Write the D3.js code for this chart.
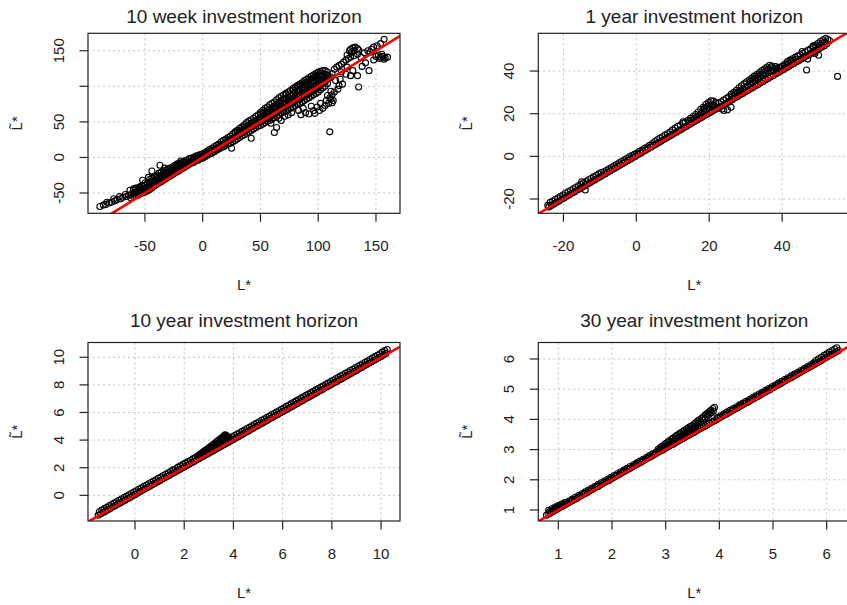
<!DOCTYPE html>
<html>
<head>
<meta charset="utf-8">
<script src="https://cdn.jsdelivr.net/npm/d3@7/dist/d3.min.js"></script>
<style>
  body { margin: 0; background: #fff; }
  svg { display: block; }
  text { font-family: "Liberation Sans", Arial, sans-serif; fill: #222; }
</style>
</head>
<body>
<svg id="chart" width="847" height="605"></svg>
<script>
// ---- data: (L*, L~*) pairs for each investment horizon ----
const tenWeekPts = [
  // lower tail
  [-89,-69],[-86,-67],[-84,-66],[-81,-64],[-79,-63],[-76,-61],[-74,-59],[-71,-58],[-69,-56],[-66,-55],[-64,-53],
  [-83,-63],[-77,-58],[-72,-55],[-67,-52],[-63,-46],[-58,-43],[-60,-44],[-55,-42],
  // main body
  [-62,-57],[-62,-52],[-60,-55],[-60,-50],[-60,-46],[-58,-54],[-58,-49],[-58,-44],
  [-56,-53],[-56,-48],[-56,-43],[-54,-51],[-54,-46],[-54,-41],[-52,-50],[-52,-45],[-52,-40],
  [-50,-49],[-50,-44],[-50,-39],[-50,-36],[-48,-47],[-48,-42],[-48,-37],
  [-46,-45],[-46,-40],[-46,-35],[-46,-31],[-44,-43],[-44,-38],[-44,-33],[-44,-29],
  [-42,-40],[-42,-35],[-42,-31],[-42,-27],[-40,-38],[-40,-33],[-40,-28],[-40,-25],
  [-38,-36],[-38,-31],[-38,-26],[-38,-22],[-36,-34],[-36,-29],[-36,-25],[-36,-21],
  [-34,-32],[-34,-27],[-34,-23],[-34,-19],[-32,-30],[-32,-25],[-32,-21],[-32,-18],
  [-30,-28],[-30,-24],[-30,-20],[-30,-16],[-28,-26],[-28,-22],[-28,-18],[-28,-15],
  [-26,-24],[-26,-20],[-26,-16],[-26,-13],[-24,-22],[-24,-18],[-24,-14],[-24,-11],
  [-22,-20],[-22,-16],[-22,-12],[-22,-9],[-20,-18],[-20,-14],[-20,-11],[-20,-8],
  [-18,-16],[-18,-12],[-18,-9],[-18,-7],[-16,-14],[-16,-10],[-16,-7],[-16,-5],
  [-14,-12],[-14,-8],[-14,-4],[-12,-10],[-12,-6],[-12,-2],[-10,-8],[-10,-5],[-10,-1],
  [-8,-7],[-8,-3],[-8,0],[-6,-5],[-6,-1],[-6,2],[-4,-4],[-4,0],[-4,3],[-2,-2],[-2,1],[-2,4],
  [0,-1],[0,2],[0,5],[2,1],[2,4],[2,7],[4,3],[4,6],[4,9],[6,5],[6,8],[6,11],[8,6],[8,10],[8,13],
  [10,8],[10,11],[10,15],[12,10],[12,13],[12,17],[14,12],[14,15],[14,19],[16,14],[16,18],[16,22],
  [18,15],[18,19],[18,24],[20,17],[20,21],[20,26],[22,19],[22,24],[22,28],[24,20],[24,25],[24,30],
  [26,22],[26,27],[26,33],[28,24],[28,29],[28,34],[28,36],[30,26],[30,31],[30,35],[30,38],
  [32,28],[32,33],[32,37],[32,41],[34,30],[34,35],[34,39],[34,43],[36,32],[36,37],[36,42],[36,46],
  [38,34],[38,39],[38,44],[38,49],[40,36],[40,41],[40,46],[40,51],[42,38],[42,43],[42,48],[42,53],
  [44,40],[44,45],[44,50],[44,55],[46,42],[46,47],[46,52],[46,58],[48,44],[48,49],[48,54],[48,60],
  [50,45],[50,50],[50,55],[50,60],[50,63],[52,47],[52,52],[52,57],[52,62],[52,66],
  [54,49],[54,54],[54,59],[54,64],[54,69],[56,51],[56,56],[56,61],[56,66],[56,71],
  [58,52],[58,57],[58,63],[58,68],[58,74],[60,54],[60,59],[60,65],[60,70],[60,76],
  [62,56],[62,61],[62,67],[62,72],[62,78],[64,58],[64,63],[64,69],[64,75],[64,81],
  [66,60],[66,66],[66,72],[66,78],[66,84],[68,62],[68,68],[68,74],[68,80],[68,86],
  [70,64],[70,70],[70,76],[70,82],[70,88],[72,65],[72,71],[72,77],[72,83],[72,88],[72,90],
  [74,67],[74,73],[74,79],[74,85],[74,92],[76,69],[76,75],[76,81],[76,87],[76,94],
  [78,71],[78,77],[78,83],[78,89],[78,94],[78,97],[80,73],[80,79],[80,85],[80,91],[80,97],[80,99],
  [82,75],[82,81],[82,87],[82,93],[82,99],[82,101],[84,76],[84,82],[84,88],[84,94],[84,100],[84,103],
  [86,78],[86,84],[86,90],[86,96],[86,102],[86,105],[88,80],[88,86],[88,92],[88,98],[88,104],[88,108],
  [90,82],[90,88],[90,94],[90,100],[90,106],[90,110],[92,84],[92,90],[92,96],[92,102],[92,108],[92,112],
  [94,86],[94,92],[94,98],[94,104],[94,110],[94,114],[96,88],[96,94],[96,100],[96,106],[96,112],[96,116],
  [98,90],[98,96],[98,102],[98,108],[98,114],[98,118],[100,92],[100,98],[100,104],[100,110],[100,116],[100,120],
  [102,95],[102,101],[102,107],[102,113],[102,118],[102,121],[104,98],[104,104],[104,110],[104,116],[104,122],
  [106,100],[106,106],[106,112],[106,117],[106,122],[108,104],[108,110],[108,115],[108,120],
  // scattered points off the main body
  [-44,-19],[-37,-11],[-33,-15],[-19,-5],[-47,-28],[-52,-32],[25,13],[42,27],
  [83,66],[85,60],[87,69],[89,63],[92,61],[94,72],[96,66],[97,62],[99,71],[101,66],[102,76],[104,69],
  [106,73],[107,80],[109,76],[110,84],[112,88],[111,93],[113,80],[77,63],[74,60],[71,58],[66,55],
  [62,35],[64,42],[59,48],[68,52],
  [110,112],[112,118],[114,124],[116,127],[118,129],[120,131],[122,134],[124,137],[126,139],[128,141],
  [131,143],[134,145],[137,141],[140,147],[143,150],[146,152],[148,155],[151,157],[154,160],[157,166],[145,148],
  [125,144],[127,150],[128,152],[130,154],[132,155],[134,153],[135,151],[129,148],[131,150],
  [150,142],[152,144],[154,141],[156,142],[158,140],[160,141],[157,138],[153,139],[148,137],[155,145],
  [125,127],[130,122],[134,115],[128,115],[124,117],[119,110],[144,122],[135,99],[118,101],[114,92],
  [111,82],[112,77],[108,87],[115,108],[121,103],[111,113],[117,96],[138,128],[141,133],[120,120],
  [110,36]
];

const oneYearPts = [
  // lower edge of the band
  [-24,-23.7],[-23.3,-23.0],[-22.6,-22.3],[-21.9,-21.5],[-21.2,-20.9],[-20.5,-20.1],[-19.8,-19.5],
  [-19.1,-18.7],[-18.4,-18.1],[-17.7,-17.3],[-17,-16.7],[-16.3,-15.9],[-15.6,-15.3],[-14.9,-14.5],
  [-14.2,-13.9],[-13.5,-13.1],[-12.8,-12.5],[-12.1,-11.7],[-11.4,-11.1],[-10.7,-10.3],[-10,-9.7],
  [-9.3,-8.9],[-8.6,-8.3],[-7.9,-7.5],[-7.2,-6.9],[-6.5,-6.1],[-5.8,-5.5],[-5.1,-4.7],[-4.4,-4.1],
  [-3.7,-3.3],[-3,-2.7],[-2.3,-1.9],[-1.6,-1.3],[-0.9,-0.5],[-0.2,0.1],[0.5,0.9],[1.2,1.5],[1.9,2.3],
  [2.6,2.9],[3.3,3.7],[4,4.3],[4.7,5.1],[5.4,5.7],[6.1,6.5],[6.8,7.1],[7.5,7.9],[8.2,8.5],[8.9,9.3],
  [9.6,9.9],[10.3,10.7],[11,11.3],[11.7,12.1],[12.4,12.7],[13.1,13.5],[13.8,14.1],[14.5,14.9],
  [15.2,15.5],[15.9,16.3],[16.6,16.9],[17.3,17.7],[18,18.3],[18.7,19.1],[19.4,19.7],[20.1,20.5],
  [20.8,21.1],[21.5,21.8],[22.2,22.4],[22.9,23.0],[23.6,23.7],[24.3,24.5],[25,25.2],[25.7,26.0],
  [26.4,26.7],[27.1,27.5],[27.8,28.1],[28.5,28.9],[29.2,29.5],[29.9,30.3],[30.6,30.9],[31.3,31.7],
  [32,32.3],[32.7,33.1],[33.4,33.7],[34.1,34.5],[34.8,35.1],[35.5,35.9],[36.2,36.5],[36.9,37.3],
  [37.6,37.9],[38.3,38.7],[39,39.3],[39.7,40.1],[40.4,40.7],[41.1,41.5],[41.8,42.1],[42.5,42.9],
  [43.2,43.5],[43.9,44.3],[44.6,44.9],[45.3,45.7],[46,46.3],[46.7,47.1],[47.4,47.7],[48.1,48.5],
  [48.8,49.1],[49.5,49.9],[50.2,50.5],[50.9,51.3],[51.6,51.9],[52.3,52.8],
  // upper edge of the band
  [-23.65,-21.6],[-22.95,-20.9],[-22.25,-20.2],[-21.55,-19.5],[-20.85,-18.9],[-20.15,-18.1],
  [-19.45,-17.3],[-18.75,-16.6],[-18.05,-16.0],[-17.35,-15.2],[-16.65,-14.6],[-15.95,-13.8],
  [-15.25,-13.2],[-14.55,-12.4],[-13.85,-11.8],[-13.15,-11.0],[-12.45,-10.4],[-11.75,-9.6],
  [-11.05,-9.0],[-10.35,-8.2],[-9.65,-7.6],[-8.95,-7.2],[-8.25,-6.6],[-7.55,-5.8],[-6.85,-5.2],
  [-6.15,-4.4],[-5.45,-3.8],[-4.75,-3.0],[-4.05,-2.4],[-3.35,-1.6],[-2.65,-1.0],[-1.95,-0.2],
  [-1.25,0.4],[-0.55,1.0],[0.15,1.6],[0.85,2.4],[1.55,3.0],[2.25,3.8],[2.95,4.4],[3.65,5.2],
  [4.35,5.9],[5.05,7.0],[5.75,7.8],[6.45,8.6],[7.15,9.2],[7.85,10.0],[8.55,10.6],[9.25,11.4],
  [9.95,12.4],[10.65,13.3],[11.35,14.1],[12.05,14.7],[12.75,15.5],[13.45,16.1],[14.15,16.9],
  [14.85,17.9],[15.55,18.7],[16.25,19.6],[16.95,20.8],[17.65,22.1],[18.35,23.0],[19.05,24.3],
  [19.75,25.2],[20.45,26.0],[21.15,25.9],[21.85,25.2],[22.55,25.0],[23.25,25.6],[23.95,26.4],
  [24.65,27.1],[25.35,27.9],[26.05,29.2],[26.75,30.0],[27.45,31.0],[28.15,32.2],[28.85,33.1],
  [29.55,34.0],[30.25,35.0],[30.95,35.8],[31.65,36.7],[32.35,37.6],[33.05,38.4],[33.75,39.3],
  [34.45,40.2],[35.15,41.0],[35.85,41.9],[36.55,42.7],[37.25,42.4],[37.95,41.2],[38.65,40.9],
  [39.35,41.6],[40.05,42.3],[40.75,43.3],[41.45,44.4],[42.15,45.1],[42.85,45.8],[43.55,46.5],
  [44.25,47.1],[44.95,47.6],[45.65,48.3],[46.35,48.9],[47.05,49.7],[47.75,50.4],[48.45,51.2],
  [49.15,52.2],[49.85,53.0],[50.55,53.9],[51.25,54.7],[51.95,55.4],
  // filling where the band widens
  [14.5,16.2],[15.2,17.0],[15.9,17.7],[16.6,18.6],[17.3,19.4],[18.0,20.3],[18.7,21.2],[19.4,22.0],
  [20.1,22.8],[20.8,23.5],[21.5,23.6],
  [26.4,28.3],[27.1,29.1],[27.8,30.0],[28.5,30.8],[29.2,31.6],[29.9,32.4],[30.6,33.1],[31.3,33.9],
  [32.0,34.7],[32.7,35.5],[33.4,36.3],[34.1,37.1],[34.8,37.9],[35.5,38.6],[36.2,39.4],[36.9,40.1],[37.6,40.2],
  [41.1,42.9],[41.8,43.6],[42.5,44.3],[43.2,45.0],[43.9,45.6],[49.5,51.3],[50.2,52.0],[50.9,52.8],[51.6,53.5],
  [18.7,22.4],[19.4,23.3],[20.1,24.1],[20.8,24.5],
  [31.3,35.1],[32.0,35.9],[32.7,36.7],[33.4,37.5],[34.1,38.4],[34.8,39.2],[35.5,40.0],[36.2,40.9],[36.9,41.5],
  // isolated points
  [-15,-11.9],[-14,-15.8],[12.8,16.2],[46.7,40.5],[55.2,37.5],[49,48.2],[50,47.4],[47,45.6],
  [52.5,54.8],[53,54.3],[48.5,51.8],[45.5,49.2],[-24.3,-23],[38.2,42.1],[39.0,41.8],
  [24,21.5],[25,21.8],[23.5,22.2],[26,23.0]
];

const tenYearPts = [
  // lower edge of the band
  [-1.50,-1.44],[-1.40,-1.35],[-1.30,-1.24],[-1.20,-1.15],[-1.10,-1.04],[-1.00,-0.95],[-0.90,-0.84],
  [-0.80,-0.75],[-0.70,-0.64],[-0.60,-0.55],[-0.50,-0.44],[-0.40,-0.35],[-0.30,-0.24],[-0.20,-0.15],
  [-0.10,-0.04],[0.00,0.05],[0.10,0.16],[0.20,0.25],[0.30,0.36],[0.40,0.45],[0.50,0.56],[0.60,0.65],
  [0.70,0.76],[0.80,0.85],[0.90,0.96],[1.00,1.05],[1.10,1.16],[1.20,1.25],[1.30,1.36],[1.40,1.45],
  [1.50,1.56],[1.60,1.65],[1.70,1.76],[1.80,1.85],[1.90,1.96],[2.00,2.05],[2.10,2.16],[2.20,2.25],
  [2.30,2.36],[2.40,2.45],[2.50,2.56],[2.60,2.65],[2.70,2.76],[2.80,2.85],[2.90,2.96],[3.00,3.05],
  [3.10,3.16],[3.20,3.25],[3.30,3.36],[3.40,3.45],[3.50,3.56],[3.60,3.65],[3.70,3.76],[3.80,3.85],
  [3.90,3.96],[4.00,4.05],[4.10,4.16],[4.20,4.25],[4.30,4.36],[4.40,4.45],[4.50,4.56],[4.60,4.65],
  [4.70,4.76],[4.80,4.85],[4.90,4.96],[5.00,5.05],[5.10,5.16],[5.20,5.25],[5.30,5.36],[5.40,5.45],
  [5.50,5.56],[5.60,5.65],[5.70,5.76],[5.80,5.85],[5.90,5.96],[6.00,6.05],[6.10,6.16],[6.20,6.25],
  [6.30,6.36],[6.40,6.45],[6.50,6.56],[6.60,6.65],[6.70,6.76],[6.80,6.85],[6.90,6.96],[7.00,7.05],
  [7.10,7.16],[7.20,7.25],[7.30,7.36],[7.40,7.45],[7.50,7.56],[7.60,7.65],[7.70,7.76],[7.80,7.85],
  [7.90,7.96],[8.00,8.05],[8.10,8.16],[8.20,8.25],[8.30,8.36],[8.40,8.45],[8.50,8.56],[8.60,8.65],
  [8.70,8.76],[8.80,8.85],[8.90,8.96],[9.00,9.05],[9.10,9.16],[9.20,9.25],[9.30,9.36],[9.40,9.45],
  [9.50,9.56],[9.60,9.65],[9.70,9.76],[9.80,9.85],[9.90,9.96],[10.00,10.06],[10.10,10.17],[10.20,10.28],
  // upper edge of the band
  [-1.45,-1.19],[-1.35,-1.07],[-1.25,-0.96],[-1.15,-0.87],[-1.05,-0.76],[-0.95,-0.67],[-0.85,-0.56],
  [-0.75,-0.47],[-0.65,-0.36],[-0.55,-0.27],[-0.45,-0.16],[-0.35,-0.07],[-0.25,0.04],[-0.15,0.13],
  [-0.05,0.24],[0.05,0.33],[0.15,0.44],[0.25,0.53],[0.35,0.64],[0.45,0.73],[0.55,0.84],[0.65,0.93],
  [0.75,1.04],[0.85,1.13],[0.95,1.24],[1.05,1.33],[1.15,1.44],[1.25,1.53],[1.35,1.64],[1.45,1.73],
  [1.55,1.84],[1.65,1.93],[1.75,2.04],[1.85,2.13],[1.95,2.24],[2.05,2.33],[2.15,2.44],[2.25,2.53],
  [2.35,2.64],[2.45,2.73],[2.55,2.84],[2.65,2.93],[2.75,3.04],[2.85,3.13],[2.95,3.24],[3.05,3.33],
  [3.15,3.44],[3.25,3.53],[3.35,3.64],[3.45,3.73],[3.55,3.84],[3.65,3.93],[3.75,4.04],[3.85,4.13],
  [3.95,4.24],[4.05,4.33],[4.15,4.44],[4.25,4.53],[4.35,4.64],[4.45,4.73],[4.55,4.84],[4.65,4.93],
  [4.75,5.04],[4.85,5.13],[4.95,5.24],[5.05,5.33],[5.15,5.44],[5.25,5.53],[5.35,5.64],[5.45,5.73],
  [5.55,5.84],[5.65,5.93],[5.75,6.04],[5.85,6.13],[5.95,6.24],[6.05,6.33],[6.15,6.44],[6.25,6.53],
  [6.35,6.64],[6.45,6.73],[6.55,6.84],[6.65,6.93],[6.75,7.04],[6.85,7.13],[6.95,7.24],[7.05,7.33],
  [7.15,7.44],[7.25,7.53],[7.35,7.64],[7.45,7.73],[7.55,7.84],[7.65,7.93],[7.75,8.04],[7.85,8.13],
  [7.95,8.24],[8.05,8.33],[8.15,8.44],[8.25,8.53],[8.35,8.64],[8.45,8.73],[8.55,8.84],[8.65,8.93],
  [8.75,9.04],[8.85,9.13],[8.95,9.24],[9.05,9.33],[9.15,9.44],[9.25,9.53],[9.35,9.64],[9.45,9.73],
  [9.55,9.84],[9.65,9.94],[9.75,10.05],[9.85,10.15],[9.95,10.26],[10.05,10.37],[10.15,10.48],[10.25,10.56],
  // bump near L* = 3.7
  [2.60,2.92],[2.68,3.03],[2.76,3.14],[2.84,3.24],[2.92,3.34],[3.00,3.44],[3.08,3.55],[3.16,3.66],
  [3.24,3.77],[3.32,3.89],[3.40,4.00],[3.48,4.11],[3.56,4.23],[3.62,4.32],[3.66,4.38],[3.70,4.35],
  [3.73,4.29],[3.76,4.22],[3.79,4.16],
  [3.00,3.33],[3.08,3.43],[3.16,3.53],[3.24,3.63],[3.32,3.73],[3.40,3.84],[3.48,3.95],[3.56,4.06],
  [3.62,4.15],[3.66,4.22],[3.70,4.20]
];

const thirtyYearPts = [
  // main band
  [0.78,0.83],[0.82,0.87],[0.86,0.91],[0.90,0.95],[0.94,0.99],[0.98,1.03],[1.02,1.07],[1.06,1.11],
  [1.10,1.15],[1.14,1.19],[1.18,1.23],[1.22,1.27],[1.26,1.31],[1.30,1.35],[1.34,1.38],[1.38,1.43],
  [1.42,1.47],[1.46,1.51],[1.50,1.55],[1.54,1.58],[1.58,1.63],[1.62,1.67],[1.66,1.71],[1.70,1.75],
  [1.74,1.78],[1.78,1.83],[1.82,1.87],[1.86,1.91],[1.90,1.95],[1.94,1.98],[1.98,2.03],[2.02,2.07],
  [2.06,2.11],[2.10,2.15],[2.14,2.18],[2.18,2.23],[2.22,2.27],[2.26,2.31],[2.30,2.35],[2.34,2.38],
  [2.38,2.43],[2.42,2.47],[2.46,2.51],[2.50,2.55],[2.54,2.58],[2.58,2.63],[2.62,2.67],[2.66,2.71],
  [2.70,2.75],[2.74,2.78],[2.78,2.83],[2.82,2.87],[2.86,2.91],[2.90,2.95],[2.94,2.98],[2.98,3.03],
  [3.02,3.07],[3.06,3.11],[3.10,3.15],[3.14,3.18],[3.18,3.23],[3.22,3.27],[3.26,3.31],[3.30,3.35],
  [3.34,3.38],[3.38,3.43],[3.42,3.47],[3.46,3.51],[3.50,3.55],[3.54,3.58],[3.58,3.63],[3.62,3.67],
  [3.66,3.71],[3.70,3.75],[3.74,3.78],[3.78,3.83],[3.82,3.87],[3.86,3.91],[3.90,3.95],[3.94,3.98],
  [3.98,4.03],[4.02,4.07],[4.06,4.11],[4.10,4.15],[4.14,4.18],[4.18,4.23],[4.22,4.27],[4.26,4.31],
  [4.30,4.35],[4.34,4.38],[4.38,4.43],[4.42,4.47],[4.46,4.51],[4.50,4.55],[4.54,4.58],[4.58,4.63],
  [4.62,4.67],[4.66,4.71],[4.70,4.75],[4.74,4.78],[4.78,4.83],[4.82,4.87],[4.86,4.91],[4.90,4.95],
  [4.94,4.98],[4.98,5.03],[5.02,5.07],[5.06,5.11],[5.10,5.15],[5.14,5.18],[5.18,5.23],[5.22,5.27],
  [5.26,5.31],[5.30,5.35],[5.34,5.38],[5.38,5.43],[5.42,5.47],[5.46,5.51],[5.50,5.55],[5.54,5.59],
  [5.58,5.63],[5.62,5.67],[5.66,5.71],[5.70,5.75],[5.74,5.79],[5.78,5.83],[5.82,5.87],[5.86,5.91],
  [5.90,5.95],[5.94,6.00],[5.98,6.04],[6.02,6.08],[6.06,6.12],[6.10,6.16],[6.14,6.20],[6.18,6.24],[6.22,6.28],
  // upper side of the main band
  [0.84,0.95],[0.90,1.01],[0.96,1.07],[1.02,1.13],[1.08,1.18],[1.14,1.24],[1.20,1.30],[1.26,1.36],
  [1.32,1.42],[1.38,1.48],[1.44,1.54],[1.50,1.60],[1.56,1.66],[1.62,1.72],[1.68,1.78],[1.74,1.84],
  [1.80,1.90],[1.86,1.96],[1.92,2.02],[1.98,2.08],[2.04,2.14],[2.10,2.20],[2.16,2.26],[2.22,2.32],
  [2.28,2.38],[2.34,2.44],[2.40,2.50],[2.46,2.56],[2.52,2.62],[2.58,2.68],[2.64,2.74],[2.70,2.80],
  [2.76,2.86],[2.82,2.92],[2.88,2.98],[2.94,3.04],[3.00,3.10],[3.06,3.16],[3.12,3.22],[3.18,3.28],
  [3.24,3.34],[3.30,3.40],[3.36,3.46],[3.42,3.52],[3.48,3.58],[3.54,3.64],[3.60,3.70],
  [3.96,4.06],[4.02,4.12],[4.08,4.18],[4.14,4.24],[4.20,4.30],[4.26,4.36],[4.32,4.42],[4.38,4.48],
  [4.44,4.54],[4.50,4.60],[4.56,4.66],[4.62,4.72],[4.68,4.78],[4.74,4.84],[4.80,4.90],[4.86,4.96],
  [4.92,5.02],[4.98,5.08],[5.04,5.14],[5.10,5.20],[5.16,5.26],[5.22,5.32],[5.28,5.38],[5.34,5.44],
  [5.40,5.50],[5.46,5.56],[5.52,5.62],[5.58,5.68],[5.64,5.74],[5.70,5.81],[5.76,5.87],
  // wider ends
  [0.82,0.99],[0.88,1.04],[0.94,1.10],[1.00,1.15],[1.06,1.20],[1.12,1.25],
  [5.80,5.95],[5.85,6.01],[5.90,6.06],[5.95,6.12],[6.00,6.17],[6.05,6.23],[6.10,6.28],[6.15,6.33],[6.19,6.37],
  // branch leaving the band near L* = 3.9
  [2.86,3.01],[2.90,3.07],[2.93,3.11],[2.97,3.16],[3.00,3.20],[3.04,3.25],[3.07,3.29],[3.11,3.34],
  [3.14,3.38],[3.18,3.43],[3.21,3.47],[3.25,3.52],[3.28,3.56],[3.32,3.60],[3.35,3.64],[3.39,3.68],
  [3.42,3.72],[3.46,3.76],[3.49,3.80],[3.53,3.85],[3.56,3.89],[3.60,3.95],[3.63,3.99],[3.67,4.04],
  [3.70,4.09],[3.74,4.15],[3.77,4.19],[3.81,4.25],[3.84,4.30],[3.88,4.36],[3.91,4.40],
  [3.05,3.17],[3.09,3.22],[3.13,3.27],[3.17,3.32],[3.21,3.36],[3.25,3.41],[3.29,3.45],[3.33,3.50],
  [3.37,3.55],[3.41,3.60],[3.45,3.65],[3.49,3.70],[3.53,3.75],[3.57,3.80],[3.61,3.86],[3.65,3.92],
  [3.69,3.98],[3.73,4.04],[3.77,4.10],[3.81,4.16],[3.85,4.22],[3.89,4.28]
];

const titles = [
  "10 week investment horizon", "1 year investment horizon",
  "10 year investment horizon", "30 year investment horizon"
];
const xDomains = [[-99.3, 170.8], [-26.9, 58.7], [-1.91, 10.77], [0.627, 6.44]];
const yDomains = [[-78.5, 174.5], [-26.7, 57.7], [-1.86, 11.07], [0.636, 6.546]];
const xTicks = [[-50, 0, 50, 100, 150], [-20, 0, 20, 40], [0, 2, 4, 6, 8, 10], [1, 2, 3, 4, 5, 6]];
const yTicks = [[-50, 0, 50, 100, 150], [-20, 0, 20, 40], [0, 2, 4, 6, 8, 10], [1, 2, 3, 4, 5, 6]];
// the 100 label on the first panel is dropped (it would collide with its neighbours)
const yTickLabels = [["-50", "0", "50", "", "150"], ["-20", "0", "20", "40"],
                     ["0", "2", "4", "6", "8", "10"], ["1", "2", "3", "4", "5", "6"]];
const seriesList = [tenWeekPts, oneYearPts, tenYearPts, thirtyYearPts];

// ---- layout ----
const boxes = [
  { x: 88,    y: 33.3,  w: 312, h: 180 },
  { x: 538.3, y: 33.3,  w: 312, h: 180 },
  { x: 88,    y: 342.5, w: 312, h: 178.5 },
  { x: 538.3, y: 342.5, w: 312, h: 178.5 }
];
const titleBaseline = [23, 23, 327, 327];

const svg = d3.select("#chart");
const TICK = 8.5;

boxes.forEach((b, i) => {
  const x = d3.scaleLinear().domain(xDomains[i]).range([b.x, b.x + b.w]);
  const y = d3.scaleLinear().domain(yDomains[i]).range([b.y + b.h, b.y]);
  const g = svg.append("g");

  const clipId = "clip" + i;
  svg.append("clipPath").attr("id", clipId)
    .append("rect").attr("x", b.x).attr("y", b.y).attr("width", b.w).attr("height", b.h);

  // dotted reference grid at the tick positions
  const grid = g.append("g").attr("stroke", "#c4c4c4").attr("stroke-width", 1)
    .attr("stroke-dasharray", "2,3").attr("clip-path", `url(#${clipId})`);
  grid.selectAll("line.v").data(xTicks[i]).join("line")
    .attr("x1", d => x(d)).attr("x2", d => x(d)).attr("y1", b.y).attr("y2", b.y + b.h);
  grid.selectAll("line.h").data(yTicks[i]).join("line")
    .attr("y1", d => y(d)).attr("y2", d => y(d)).attr("x1", b.x).attr("x2", b.x + b.w);

  // open-circle scatter
  g.append("g").attr("clip-path", `url(#${clipId})`)
    .selectAll("circle").data(seriesList[i]).join("circle")
    .attr("cx", d => x(d[0])).attr("cy", d => y(d[1])).attr("r", 3)
    .attr("fill", "none").attr("stroke", "#000").attr("stroke-width", 1.1);

  // 45-degree line L~* = L*
  const lo = Math.min(xDomains[i][0], yDomains[i][0]);
  const hi = Math.max(xDomains[i][1], yDomains[i][1]);
  g.append("line").attr("clip-path", `url(#${clipId})`)
    .attr("x1", x(lo)).attr("y1", y(lo)).attr("x2", x(hi)).attr("y2", y(hi))
    .attr("stroke", "#ff0000").attr("stroke-width", 2.6);

  // frame
  g.append("rect").attr("x", b.x).attr("y", b.y).attr("width", b.w).attr("height", b.h)
    .attr("fill", "none").attr("stroke", "#222").attr("stroke-width", 1.2);

  // x axis
  const xa = g.append("g").attr("stroke", "#222").attr("stroke-width", 1.2);
  xa.selectAll("line").data(xTicks[i]).join("line")
    .attr("x1", d => x(d)).attr("x2", d => x(d))
    .attr("y1", b.y + b.h).attr("y2", b.y + b.h + TICK);
  g.selectAll("text.xt").data(xTicks[i]).join("text").attr("class", "xt")
    .attr("x", d => x(d)).attr("y", b.y + b.h + 37.5)
    .attr("text-anchor", "middle").attr("font-size", 15)
    .text(d => String(d));

  // y axis
  const ya = g.append("g").attr("stroke", "#222").attr("stroke-width", 1.2);
  ya.selectAll("line").data(yTicks[i]).join("line")
    .attr("y1", d => y(d)).attr("y2", d => y(d))
    .attr("x1", b.x).attr("x2", b.x - TICK);
  g.selectAll("text.yt").data(yTicks[i].map((v, k) => [v, yTickLabels[i][k]])).join("text")
    .attr("class", "yt")
    .attr("transform", d => `translate(${b.x - 24.5},${y(d[0])}) rotate(-90)`)
    .attr("text-anchor", "middle").attr("font-size", 15)
    .text(d => d[1]);

  // titles and axis labels
  g.append("text").attr("x", b.x + b.w / 2).attr("y", titleBaseline[i])
    .attr("text-anchor", "middle").attr("font-size", 19).text(titles[i]);
  g.append("text").attr("x", b.x + b.w / 2).attr("y", b.y + b.h + 77)
    .attr("text-anchor", "middle").attr("font-size", 15).text("L*");
  g.append("text")
    .attr("transform", `translate(${b.x - 66},${b.y + b.h / 2}) rotate(-90)`)
    .attr("text-anchor", "middle").attr("font-size", 15).text("L\u0303*");
});
</script>
</body>
</html>
